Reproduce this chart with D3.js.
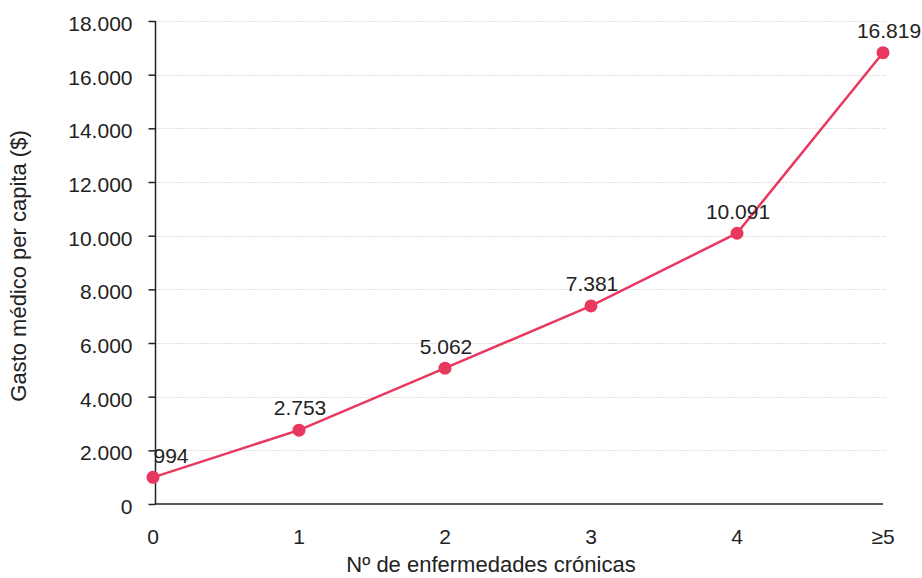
<!DOCTYPE html>
<html>
<head>
<meta charset="utf-8">
<script src="https://cdn.jsdelivr.net/npm/d3@7"></script>
<style>
  body { margin: 0; background: #fff; }
  svg { display: block; font-family: "Liberation Sans", Arial, Helvetica, sans-serif; }
</style>
</head>
<body>
<div id="chart"></div>
<script>
// data
const categories = ["0", "1", "2", "3", "4", "\u22655"];
const gasto = [994, 2753, 5062, 7381, 10091, 16819];
const valueLabels = ["994", "2.753", "5.062", "7.381", "10.091", "16.819"];
const yTicks = [0, 2000, 4000, 6000, 8000, 10000, 12000, 14000, 16000, 18000];

const width = 922, height = 578;
const red = "#e8385f", ink = "#222";

let svg = d3.select("#chart").append("svg")
  .attr("width", width)
  .attr("height", height);

let x = d3.scalePoint().domain(categories).range([153, 883]);
let y = d3.scaleLinear().domain([0, 18000]).range([504, 21]);
const axisX = 155.5;

// thousands with a dot
let fmt = d => d3.format(",")(d).replace(/,/g, ".");

// grid
svg.append("g")
  .selectAll("line")
  .data(yTicks.filter(d => d > 0))
  .join("line")
  .attr("x1", axisX)
  .attr("x2", 886)
  .attr("y1", d => Math.round(y(d)) + 0.5)
  .attr("y2", d => Math.round(y(d)) + 0.5)
  .attr("stroke", "#c9c1ba")
  .attr("stroke-width", 1)
  .attr("stroke-dasharray", "1,2");

// y axis
let yAxis = svg.append("g")
  .attr("transform", `translate(${axisX},0)`)
  .call(d3.axisLeft(y).tickValues(yTicks).tickFormat(fmt).tickSize(7).tickPadding(16));
yAxis.select(".domain").attr("stroke", ink).attr("stroke-width", 1.5)
  .attr("d", `M0,${y(18000)}V${y(0)}`);
yAxis.selectAll(".tick line").attr("stroke", ink).attr("stroke-width", 1.5);
yAxis.selectAll(".tick text")
  .attr("fill", ink)
  .style("font-size", "21px")
  .attr("dy", "0.45em");

// x axis
svg.append("line")
  .attr("x1", axisX - 0.75)
  .attr("x2", 883)
  .attr("y1", y(0))
  .attr("y2", y(0))
  .attr("stroke", ink)
  .attr("stroke-width", 1.5);

svg.append("g")
  .selectAll("text")
  .data(categories)
  .join("text")
  .attr("x", d => x(d))
  .attr("y", 537)
  .attr("dy", "0.35em")
  .attr("text-anchor", "middle")
  .attr("fill", ink)
  .style("font-size", "21px")
  .text(d => d);

// axis titles
svg.append("text")
  .attr("x", 491)
  .attr("y", 572)
  .attr("text-anchor", "middle")
  .attr("fill", ink)
  .style("font-size", "22px")
  .text("Nº de enfermedades crónicas");

svg.append("text")
  .attr("transform", "translate(18,266) rotate(-90)")
  .attr("dy", "0.35em")
  .attr("text-anchor", "middle")
  .attr("fill", ink)
  .style("font-size", "22px")
  .text("Gasto médico per capita ($)");

// line + points
let line = d3.line()
  .x((d, i) => x(categories[i]))
  .y(d => y(d));

svg.append("path")
  .datum(gasto)
  .attr("d", line)
  .attr("fill", "none")
  .attr("stroke", red)
  .attr("stroke-width", 2.5);

svg.append("g")
  .selectAll("circle")
  .data(gasto)
  .join("circle")
  .attr("cx", (d, i) => x(categories[i]))
  .attr("cy", d => y(d))
  .attr("r", 6.5)
  .attr("fill", red);

// value labels
svg.append("g")
  .selectAll("text")
  .data(gasto)
  .join("text")
  .attr("x", (d, i) => x(categories[i]) + (i === 0 ? 18 : i === 5 ? 6 : 1))
  .attr("y", d => y(d) - 22)
  .attr("dy", "0.35em")
  .attr("text-anchor", "middle")
  .attr("fill", ink)
  .style("font-size", "21px")
  .text((d, i) => valueLabels[i]);
</script>
</body>
</html>
